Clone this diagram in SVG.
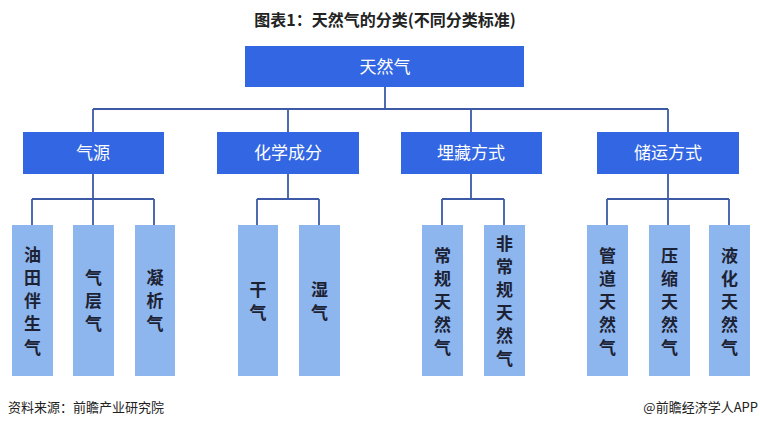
<svg xmlns="http://www.w3.org/2000/svg" width="760" height="427" viewBox="0 0 760 427">
<style>
text{font-family:"Noto Sans CJK SC","Noto Sans",sans-serif}
.d{fill:#3366e2}
.l{fill:#8db5ee}
.h{fill:#fff;font-size:17px;text-anchor:middle}
.v{fill:#1c2233;font-size:17px;text-anchor:middle;font-weight:bold}
.c{fill:none;stroke:#3c5aa6;stroke-width:1.8}
</style>
<rect width="760" height="427" fill="#fff"/>
<text x="385" y="26" font-size="16" font-weight="bold" text-anchor="middle" fill="#222">图表1：天然气的分类(不同分类标准)</text>
<g id="connectors" class="c">
<path d="M385 87V109M93 109H668M93 109V132M288 109V132M471 109V132M668 109V132"/>
<path d="M93 174V199M32 199H154M32 199V225M93 199V225M154 199V225"/>
<path d="M288 174V199M257 199H319M257 199V225M319 199V225"/>
<path d="M471 174V199M442 199H504M442 199V225M504 199V225"/>
<path d="M668 174V199M607 199H729M607 199V225M668 199V225M729 199V225"/>
</g>
<g id="root"><rect class="d" x="245" y="46" width="279" height="41"/><text class="h" x="385" y="73">天然气</text></g>
<g id="n1"><rect class="d" x="23" y="132" width="141" height="42"/><text class="h" x="93" y="159">气源</text></g>
<g id="n2"><rect class="d" x="217" y="132" width="142" height="42"/><text class="h" x="288" y="159">化学成分</text></g>
<g id="n3"><rect class="d" x="401" y="132" width="141" height="42"/><text class="h" x="471" y="159">埋藏方式</text></g>
<g id="n4"><rect class="d" x="597" y="132" width="142" height="42"/><text class="h" x="668" y="159">储运方式</text></g>
<g id="l1"><rect class="l" x="12" y="225" width="41" height="151"/><text class="v" x="32.5"><tspan x="32.5" y="261">油</tspan><tspan x="32.5" y="284">田</tspan><tspan x="32.5" y="307">伴</tspan><tspan x="32.5" y="330">生</tspan><tspan x="32.5" y="354">气</tspan></text></g>
<g id="l2"><rect class="l" x="73" y="225" width="41" height="151"/><text class="v"><tspan x="93.5" y="284">气</tspan><tspan x="93.5" y="307">层</tspan><tspan x="93.5" y="330">气</tspan></text></g>
<g id="l3"><rect class="l" x="135" y="225" width="40" height="151"/><text class="v"><tspan x="155" y="284">凝</tspan><tspan x="155" y="307">析</tspan><tspan x="155" y="330">气</tspan></text></g>
<g id="l4"><rect class="l" x="238" y="225" width="40" height="151"/><text class="v"><tspan x="258" y="296">干</tspan><tspan x="258" y="319">气</tspan></text></g>
<g id="l5"><rect class="l" x="299" y="225" width="41" height="151"/><text class="v"><tspan x="319.5" y="296">湿</tspan><tspan x="319.5" y="319">气</tspan></text></g>
<g id="l6"><rect class="l" x="422" y="225" width="41" height="151"/><text class="v"><tspan x="442.5" y="262">常</tspan><tspan x="442.5" y="285">规</tspan><tspan x="442.5" y="308">天</tspan><tspan x="442.5" y="331">然</tspan><tspan x="442.5" y="354">气</tspan></text></g>
<g id="l7"><rect class="l" x="484" y="225" width="41" height="151"/><text class="v"><tspan x="504.5" y="250">非</tspan><tspan x="504.5" y="273">常</tspan><tspan x="504.5" y="296">规</tspan><tspan x="504.5" y="319">天</tspan><tspan x="504.5" y="342">然</tspan><tspan x="504.5" y="365">气</tspan></text></g>
<g id="l8"><rect class="l" x="587" y="225" width="41" height="151"/><text class="v"><tspan x="607.5" y="262">管</tspan><tspan x="607.5" y="285">道</tspan><tspan x="607.5" y="308">天</tspan><tspan x="607.5" y="331">然</tspan><tspan x="607.5" y="354">气</tspan></text></g>
<g id="l9"><rect class="l" x="649" y="225" width="41" height="151"/><text class="v"><tspan x="669.5" y="262">压</tspan><tspan x="669.5" y="285">缩</tspan><tspan x="669.5" y="308">天</tspan><tspan x="669.5" y="331">然</tspan><tspan x="669.5" y="354">气</tspan></text></g>
<g id="l10"><rect class="l" x="709" y="225" width="41" height="151"/><text class="v"><tspan x="729.5" y="262">液</tspan><tspan x="729.5" y="285">化</tspan><tspan x="729.5" y="308">天</tspan><tspan x="729.5" y="331">然</tspan><tspan x="729.5" y="354">气</tspan></text></g>
<text x="8" y="412" font-size="13" fill="#222">资料来源：前瞻产业研究院</text>
<text x="758" y="412" font-size="13" fill="#222" text-anchor="end">@前瞻经济学人APP</text>
</svg>
